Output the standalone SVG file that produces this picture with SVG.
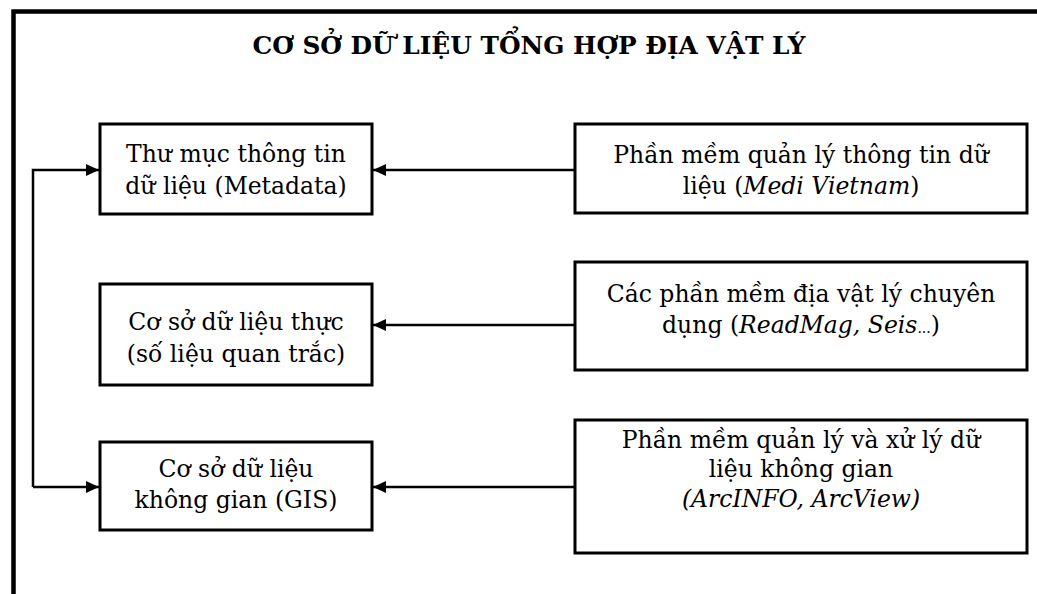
<svg xmlns="http://www.w3.org/2000/svg" width="1037" height="594" viewBox="0 0 1037 594">
<style>
.box{fill:#fff;stroke:#000;stroke-width:3}
.t{font-family:"DejaVu Serif","Liberation Serif",serif;font-size:23.5px;fill:#000;text-anchor:middle}
.title{font-family:"DejaVu Serif","Liberation Serif",serif;font-size:24.8px;font-weight:bold;fill:#000;text-anchor:middle}
.c{fill:none;stroke:#000;stroke-width:2.5}
</style>
<defs>
<marker id="ah" markerWidth="14" markerHeight="12" refX="13" refY="6" orient="auto" markerUnits="userSpaceOnUse">
<path d="M0,0 L13,6 L0,12 Z" fill="#000"/>
</marker>
</defs>
<rect width="1037" height="594" fill="#fff"/>
<g id="frame">
<path d="M13.5,594 V11.5 H1037" fill="none" stroke="#000" stroke-width="4.5"/>
</g>
<text class="title" x="529" y="54">CƠ SỞ DỮ LIỆU TỔNG HỢP ĐỊA VẬT LÝ</text>
<g id="connectors">
<path class="c" d="M575,170 H373" marker-end="url(#ah)"/>
<path class="c" d="M575,325 H373" marker-end="url(#ah)"/>
<path class="c" d="M575,487 H373" marker-end="url(#ah)"/>
<path class="c" d="M33,487 V170 H99" marker-end="url(#ah)"/>
<path class="c" d="M33,487 H99" marker-end="url(#ah)"/>
</g>
<g id="metadata">
<rect class="box" x="100" y="124" width="272" height="90"/>
<text class="t" x="236" y="162">Thư mục thông tin</text>
<text class="t" x="236" y="194">dữ liệu (Metadata)</text>
</g>
<g id="medi">
<rect class="box" x="575" y="124" width="452" height="89"/>
<text class="t" x="801" y="163">Phần mềm quản lý thông tin dữ</text>
<text class="t" x="801" y="194">liệu (<tspan font-style="italic">Medi Vietnam</tspan>)</text>
</g>
<g id="realdb">
<rect class="box" x="100" y="284" width="272" height="101"/>
<text class="t" x="236" y="330">Cơ sở dữ liệu thực</text>
<text class="t" x="236" y="362">(số liệu quan trắc)</text>
</g>
<g id="geosoft">
<rect class="box" x="575" y="262" width="452" height="108"/>
<text class="t" x="801" y="302">Các phần mềm địa vật lý chuyên</text>
<text class="t" x="801" y="333">dụng (<tspan font-style="italic">ReadMag, Seis</tspan><tspan font-size="14">...</tspan>)</text>
</g>
<g id="gis">
<rect class="box" x="100" y="442" width="272" height="88"/>
<text class="t" x="236" y="477">Cơ sở dữ liệu</text>
<text class="t" x="236" y="508">không gian (GIS)</text>
</g>
<g id="arcsoft">
<rect class="box" x="575" y="420" width="452" height="133"/>
<text class="t" x="801" y="448">Phần mềm quản lý và xử lý dữ</text>
<text class="t" x="801" y="477">liệu không gian</text>
<text class="t" x="801" y="507" font-style="italic">(ArcINFO, ArcView)</text>
</g>
</svg>
